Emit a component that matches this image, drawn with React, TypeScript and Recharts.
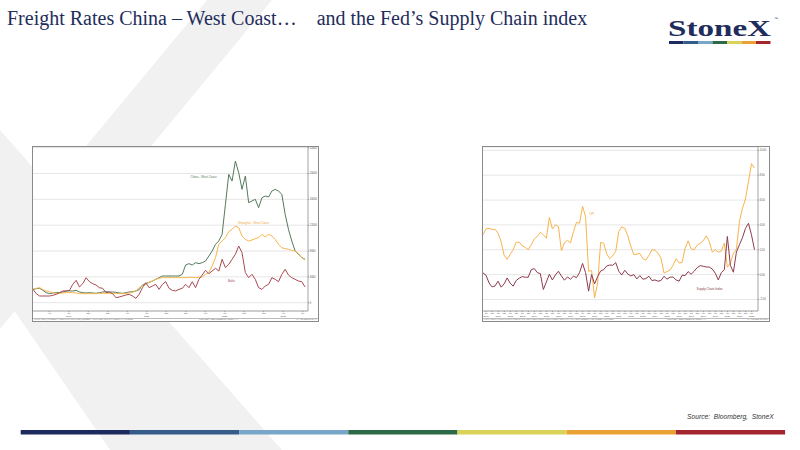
import { LineChart, Line, XAxis, YAxis, CartesianGrid, ReferenceDot } from 'recharts'

// Freight rates, USD per FEU, semi-monthly from Feb 2019
const chinaWestCoast = [
  2060, 2170, 2220, 1910, 1550, 1390, 1500, 1550, 1550, 1650,
  1810, 1810, 1810, 1910, 1650, 1550, 1500, 1550, 1500, 1450,
  1550, 1650, 1700, 1650, 1650, 1600, 1500, 1450, 1550, 1650,
  1700, 1810, 2010, 2740, 2940, 3150, 3350, 3610, 3870, 4130,
  4130, 4130, 4130, 4130, 4130, 4390, 5830, 6040, 5830, 6190,
  6040, 6190, 6450, 7220, 8000, 9030, 9550, 10580, 15220, 19870,
  18830, 21930, 20120, 17540, 19610, 15480, 15740, 16000, 14710, 16250,
  16510, 16360, 17290, 17540, 17290, 16770, 13670, 11350, 9550, 8000,
  7480, 6970, 6710,
]
const shanghaiWestCoast = [
  2060, 2220, 2320, 2010, 1810, 1700, 1550, 1450, 1450, 1500,
  1550, 1550, 1550, 1500, 1390, 1390, 1390, 1390, 1390, 1390,
  1450, 1450, 1450, 1450, 1450, 1450, 1390, 1390, 1450, 1500,
  1600, 1810, 2320, 2630, 2840, 3150, 3350, 3610, 3770, 3870,
  3870, 3870, 3870, 3870, 3870, 3870, 3870, 3920, 3920, 3870,
  3920, 3970, 4390, 4640, 5680, 6970, 9030, 9550, 10060, 10990,
  11350, 11870, 11610, 10320, 9800, 9550, 9700, 9910, 10060, 10580,
  10170, 10580, 10320, 9800, 9030, 8510, 8360, 8260, 8100, 8000,
  7590, 6970, 6610,
]
const baltic = [
  2060, 1390, 1030, 1030, 1030, 1030, 1140, 1290, 1550, 1810,
  1810, 1910, 2840, 3460, 2430, 2940, 3870, 3250, 2940, 2740,
  2320, 2220, 1550, 1650, 1390, 770, 880, 1030, 1190, 1290,
  1030, 670, 1290, 2320, 3100, 2320, 2580, 2840, 2060, 2840,
  3250, 2220, 1910, 1810, 2060, 2220, 2840, 2320, 3250, 2320,
  3610, 4280, 5010, 4490, 4900, 5320, 4900, 6710, 5420, 5930,
  6710, 7480, 8770, 7740, 4640, 3870, 4390, 3610, 2320, 2060,
  2580, 2840, 3870, 3610, 3250, 4390, 5160, 4280, 3870, 3610,
  3350, 3250, 2430,
]
const freightTicksY = [0, 4000, 8000, 12000, 16000, 20000, 24000]
const freightMonths = ['Apr', 'Jul', 'Oct', 'Jan', 'Apr', 'Jul', 'Oct', 'Jan', 'Apr', 'Jul', 'Oct', 'Jan', 'Apr', 'Jul']
const freightYears = ['', '2019', '', '', '', '2020', '', '', '', '2021', '', '', '2022', '']

// CPI YoY % and NY Fed Global Supply Chain Pressure Index, quarterly from Q2 2000
const cpi = [
  3.2, 3.68, 3.73, 3.63, 3.65, 3.33, 2.67, 1.55, 1.23, 1.63,
  2.0, 2.61, 2.61, 2.32, 2.19, 2.0, 2.4, 2.88, 3.07, 3.41,
  3.2, 2.93, 4.6, 3.68, 4.0, 3.87, 1.92, 2.56, 2.75, 2.56,
  3.47, 4.21, 4.13, 5.5, 4.67, 0.27, 0.32, -1.87, -0.67, 2.59,
  2.53, 1.68, 1.28, 1.52, 1.87, 3.47, 3.84, 3.73, 3.12, 2.29,
  1.6, 1.65, 1.71, 1.28, 1.17, 1.55, 2.0, 1.97, 1.73, 1.33,
  0.13, 0.24, 0.37, 0.75, 1.28, 0.93, 0.99, 2.13, 2.72, 2.08,
  2.0, 2.37, 2.51, 2.72, 3.12, 2.67, 1.81, 2.0, 1.81, 1.89,
  2.53, 0.59, 0.93, 1.71, 2.03, 4.27, 5.33, 6.08, 7.47, 8.93,
  8.59,
]
const supplyChain = [
  0.13, -0.05, -0.67, -0.99, -0.91, -0.53, -1.01, -0.75, -0.27, -0.69,
  -0.93, -0.48, -0.29, -0.16, -0.21, -0.21, 0.4, 0.48, 0.16, 0.08,
  -1.2, -0.59, 0.03, -0.43, -0.03, 0.27, -0.11, -0.45, -0.19, -0.37,
  -0.13, -0.24, 0.16, 0.9, 0.16, -1.33, 0.0, -0.75, -0.16, 0.29,
  0.4, 0.69, 0.77, 0.75, 0.96, 0.27, -0.03, 0.35, 0.05, -0.11,
  0.0, -0.35, -0.08, -0.37, -0.32, -0.13, -0.48, -0.43, -0.53, -0.48,
  -0.13, -0.37, -0.21, -0.19, -0.43, -0.53, -0.05, -0.08, 0.24, 0.03,
  0.27, 0.56, 0.72, 0.67, 0.61, 0.61, 0.45, 0.11, -0.43, 0.16,
  0.4, 3.07, 0.75, 0.19, 1.81, 2.4, 2.96, 3.71, 4.13, 3.2,
  2.0,
]
const supplyTicksY = [-2, 0, 2, 4, 6, 8, 10]
const supplyYears = [
  '2000', '2001', '2002', '2003', '2004', '2005', '2006', '2007', '2008', '2009', '2010', '2011',
  '2012', '2013', '2014', '2015', '2016', '2017', '2018', '2019', '2020', '2021', '2022',
]

const stripe = ['#1c2a5e', '#355b8a', '#78a6c9', '#2d6a47', '#dad35b', '#e9a233', '#a3262f']

const freightRows = chinaWestCoast.map((v, i) => ({
  t: 2019.083 + i / 23.5,
  china: v,
  shanghai: shanghaiWestCoast[i],
  baltic: baltic[i],
}))
const freightTicksX = freightMonths.map((_, i) => 2019.292 + i * 0.25)

const supplyRows = cpi.map((v, i) => ({ t: 2000.28 + i * 0.25, cpi: v, gscpi: supplyChain[i] }))
const supplyTicksX: number[] = []
const supplyMonths: string[] = []
const supplyYearRow: string[] = []
supplyYears.forEach((y) => {
  supplyTicksX.push(Number(y) + 0.542)
  supplyMonths.push('Jul')
  supplyYearRow.push(y)
  if (Number(y) + 1.042 < 2022.9) {
    supplyTicksX.push(Number(y) + 1.042)
    supplyMonths.push('Jan')
    supplyYearRow.push('')
  }
})

const tiny = 2.4

function makeDateTick(months: string[], years: string[]) {
  return (props: any) => {
    const { x, y, index } = props
    return (
      <g>
        <text x={x} y={y + 2.1} textAnchor="middle" fontSize={tiny} fill="#555">{months[index]}</text>
        {years[index] ? (
          <text x={x} y={y + 4.6} textAnchor="middle" fontSize={tiny} fill="#555">{years[index]}</text>
        ) : null}
      </g>
    )
  }
}

function Footer({ left, mid, right }: { left: string; mid: number; right: string }) {
  const s: any = { position: 'absolute', top: 171, fontSize: 2.3, color: '#666', whiteSpace: 'nowrap', lineHeight: '3px' }
  return (
    <>
      <div style={{ position: 'absolute', left: 0, right: 0, top: 170.5, borderTop: '0.4px solid #bbb' }} />
      <span style={{ ...s, left: 1 }}>{left}</span>
      <span style={{ ...s, left: mid }}>Copyright© 2022 Bloomberg Finance L.P.</span>
      <span style={{ ...s, right: 1 }}>{right}</span>
    </>
  )
}

function FreightChart() {
  return (
    <div style={{ position: 'absolute', left: 32, top: 146, width: 285, height: 174, border: '1px solid #8a8a8a', background: '#fff' }}>
      <LineChart width={285} height={174} data={freightRows} margin={{ top: 0, right: 0, bottom: 4, left: 0 }} style={{ fontFamily: 'Liberation Sans' }}>
        <CartesianGrid vertical={false} stroke="#e0e0e0" strokeWidth={0.8} />
        <XAxis
          dataKey="t"
          type="number"
          domain={[2019.083, 2022.61]}
          allowDataOverflow
          ticks={freightTicksX}
          interval={0}
          height={6}
          tickSize={1.2}
          tickMargin={0}
          stroke="#777"
          strokeWidth={0.6}
          tick={makeDateTick(freightMonths, freightYears)}
        />
        <YAxis
          orientation="right"
          width={10}
          domain={[-1290, 24100]}
          ticks={freightTicksY}
          interval={0}
          tickSize={1.2}
          tickMargin={0.5}
          stroke="#666"
          strokeWidth={0.6}
          tick={{ fontSize: 2.6, fill: '#555' }}
        />
        <Line dataKey="china" stroke="#557a5b" strokeWidth={1} dot={false} isAnimationActive={false} />
        <Line dataKey="shanghai" stroke="#f6b64a" strokeWidth={1} dot={false} isAnimationActive={false} />
        <Line dataKey="baltic" stroke="#a84a52" strokeWidth={1} dot={false} isAnimationActive={false} />
        <ReferenceDot x={2021.27} y={19400} r={0} label={{ value: 'China - West Coast', fill: '#557a5b', fontSize: 3, position: 'center' }} />
        <ReferenceDot x={2021.91} y={12280} r={0} label={{ value: 'Shanghai - West Coast', fill: '#f0a838', fontSize: 3, position: 'center' }} />
        <ReferenceDot x={2021.63} y={3300} r={0} label={{ value: 'Baltic', fill: '#a84a52', fontSize: 3, position: 'center' }} />
      </LineChart>
      <Footer
        left="FBX01 Index (Freightos - China to US West Coast)  Shanghai - West Coast  Daily 01FEB2019-17AUG2022"
        mid={166}
        right="17-Aug-2022 09:27:11"
      />
    </div>
  )
}

function SupplyChart() {
  return (
    <div style={{ position: 'absolute', left: 482, top: 146, width: 286, height: 174, border: '1px solid #8a8a8a', background: '#fff' }}>
      <LineChart width={286} height={174} data={supplyRows} margin={{ top: 0, right: 0, bottom: 4, left: 0 }} style={{ fontFamily: 'Liberation Sans' }}>
        <CartesianGrid vertical={false} stroke="#e0e0e0" strokeWidth={0.8} />
        <XAxis
          dataKey="t"
          type="number"
          domain={[2000.28, 2023.07]}
          allowDataOverflow
          ticks={supplyTicksX}
          interval={0}
          height={6}
          tickSize={1.2}
          tickMargin={0}
          stroke="#777"
          strokeWidth={0.6}
          tick={makeDateTick(supplyMonths, supplyYearRow)}
        />
        <YAxis
          orientation="right"
          width={11}
          domain={[-2.93, 10.27]}
          ticks={supplyTicksY}
          interval={0}
          tickSize={1.2}
          tickMargin={0.5}
          stroke="#666"
          strokeWidth={0.6}
          tickFormatter={(v: number) => v.toFixed(2)}
          tick={{ fontSize: 2.6, fill: '#555' }}
        />
        <Line dataKey="cpi" stroke="#f8b34c" strokeWidth={1} dot={false} isAnimationActive={false} />
        <Line dataKey="gscpi" stroke="#8e3b4c" strokeWidth={1} dot={false} isAnimationActive={false} />
        <ReferenceDot x={2009.28} y={4.88} r={0} label={{ value: 'CPI', fill: '#f0a838', fontSize: 3, position: 'center' }} />
        <ReferenceDot x={2019.06} y={-1.12} r={0} label={{ value: 'Supply Chain Index', fill: '#8e3b4c', fontSize: 3, position: 'center' }} />
      </LineChart>
      <Footer
        left="GSCPI Index (Federal Reserve Bank of New York Global Supply Chain Pressure Index)  CPI YOY Index  Monthly 31MAR2000-31JUL2022"
        mid={184}
        right="17-Aug-2022 09:28:03"
      />
    </div>
  )
}

export default function App() {
  return (
    <div style={{ position: 'absolute', left: 0, top: 0, width: 800, height: 450, overflow: 'hidden', background: '#fff' }}>
      <svg width={800} height={450} style={{ position: 'absolute', left: 0, top: 0 }}>
        <polygon points="207,0 272,0 0,329 0,250" fill="#f1f1f1" />
        <polygon points="0,130 282,450 110,450 0,290" fill="#f1f1f1" />
      </svg>
      <div
        style={{
          position: 'absolute', left: 7, top: 5, fontFamily: 'Liberation Serif', fontSize: 20,
          color: '#1f2d5c', whiteSpace: 'pre', lineHeight: '26px',
        }}
      >
        {'Freight Rates China – West Coast…    and the Fed’s Supply Chain index'}
      </div>
      <svg width={130} height={40} style={{ position: 'absolute', left: 660, top: 10 }}>
        <text x={8} y={26} fontFamily="Liberation Serif" fontWeight="bold" fontSize={24} fill="#1f2d5c" textLength={103} lengthAdjust="spacingAndGlyphs">
          StoneX
        </text>
        <text x={114} y={10} fontFamily="Liberation Sans" fontSize={4} fill="#1f2d5c">™</text>
        {stripe.map((c, i) => (
          <rect key={c} x={9 + i * 14.5} y={31} width={14.5} height={3} fill={c} />
        ))}
      </svg>
      <FreightChart />
      <SupplyChart />
      <div
        style={{
          position: 'absolute', left: 687, top: 413, fontFamily: 'Liberation Sans', fontStyle: 'italic',
          fontSize: 6.7, color: '#333', whiteSpace: 'pre',
        }}
      >
        {'Source:  Bloomberg,  StoneX'}
      </div>
      <svg width={800} height={10} style={{ position: 'absolute', left: 0, top: 429 }}>
        {stripe.map((c, i) => (
          <rect key={c} x={20.7 + i * 109.2} y={1} width={109.2} height={4.5} fill={c} />
        ))}
      </svg>
    </div>
  )
}
